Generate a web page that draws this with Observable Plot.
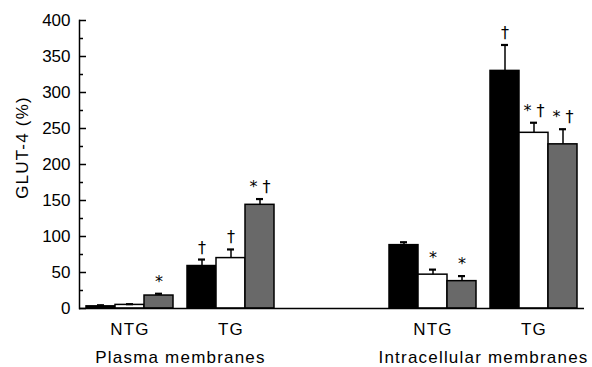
<!DOCTYPE html>
<html><head><meta charset="utf-8">
<script src="https://cdn.jsdelivr.net/npm/d3@7"></script>
<script src="https://cdn.jsdelivr.net/npm/@observablehq/plot@0.6"></script>
<style>
body{margin:0;background:#fff}
svg{font-family:"Liberation Sans",Arial,Helvetica,sans-serif}
[aria-label="fx-axis tick label"] text, .memb text, .ylab text {letter-spacing:1.2px}
</style>
</head><body><div id="chart"></div>
<script>
// facet groups (a blank slot separates the two membrane fractions)
const groups = ["P-NTG", "P-TG", "gap", "I-NTG", "I-TG"];
const groupLabels = ["NTG", "TG", "", "NTG", "TG"];
const membraneLabels = ["Plasma membranes", "Intracellular membranes"];
const membraneGroups = ["P-TG", "I-TG"];
const treatments = ["A", "B", "C"];
const treatmentColors = ["#000000", "#ffffff", "#696969"];
const yTicks = [0, 50, 100, 150, 200, 250, 300, 350, 400];
const yMinorTicks = [25, 75, 125, 175, 225, 275, 325, 375];
const yLabel = "GLUT-4 (%)";

// bars
const barGroup     = ["P-NTG","P-NTG","P-NTG","P-TG","P-TG","P-TG","I-NTG","I-NTG","I-NTG","I-TG","I-TG","I-TG"];
const barTreatment = ["A","B","C","A","B","C","A","B","C","A","B","C"];
const barValue     = [3, 5, 18, 59, 70, 144, 88, 47, 38, 330, 244, 228];
const barErrorTop  = [4.5, 6, 20.5, 68, 82, 152, 92, 54, 45, 366, 258, 249];
const barMark      = ["", "", "*", "†", "†", "* †", "", "*", "*", "†", "* †", "* †"];

const data = barValue.map((v, i) => ({g: barGroup[i], t: barTreatment[i], v, e: barErrorTop[i], m: barMark[i]}));
const membData = membraneLabels.map((label, i) => ({g: membraneGroups[i], label}));

const plot = Plot.plot({
  width: 592, height: 367,
  marginLeft: 78, marginRight: 7, marginTop: 20, marginBottom: 59,
  style: {fontFamily: '"Liberation Sans", Arial, sans-serif', fontSize: "17px", background: "white", color: "black", overflow: "visible"},
  fx: {domain: groups, paddingInner: 0, paddingOuter: 0, axis: null},
  x: {domain: treatments, paddingInner: 0, paddingOuter: 0.22, axis: null},
  y: {domain: [0, 400], axis: null},
  color: {domain: treatments, range: treatmentColors},
  marks: [
    Plot.barY(data, {fx: "g", x: "t", y: "v", fill: "t", stroke: "black", strokeWidth: 1.5}),
    Plot.ruleX(data, {fx: "g", x: "t", y1: "v", y2: "e", stroke: "black", strokeWidth: 1.5}),
    Plot.tickY(data, {fx: "g", x: "t", y: "e", stroke: "black", strokeWidth: 2.2, insetLeft: 11, insetRight: 11}),
    Plot.text(data, {fx: "g", x: "t", y: "e", text: "m", dy: -7, lineAnchor: "bottom", fontSize: 16, fill: "black", fontFamily: '"DejaVu Sans", sans-serif'}),
    Plot.ruleY(groups, {fx: d => d, y: () => 0, stroke: "black", strokeWidth: 1.5}),
    Plot.frame({anchor: "left", facetAnchor: "left", stroke: "black", strokeWidth: 1.5}),
    Plot.axisY({ticks: yTicks, tickSize: -7, tickFormat: () => "", facetAnchor: "left", label: null, strokeWidth: 1.5}),
    Plot.axisY({ticks: yMinorTicks, tickSize: -4, tickFormat: () => "", facetAnchor: "left", label: null, strokeWidth: 1.5}),
    Plot.axisY({ticks: yTicks, tickSize: 0, tickPadding: 9, facetAnchor: "left", label: null, fontSize: 17}),
    Plot.text([yLabel], {frameAnchor: "left", textAnchor: "middle", rotate: -90, dx: -57, dy: -17, facetAnchor: "left", fontSize: 17, className: "ylab"}),
    Plot.axisFx({anchor: "bottom", ticks: groups.filter((g, i) => groupLabels[i] !== ""), tickFormat: k => groupLabels[groups.indexOf(k)], tickSize: 0, tickPadding: 14, label: null, fontSize: 17}),
    Plot.text(membData, {fx: "g", frameAnchor: "bottom-left", textAnchor: "middle", text: "label", lineAnchor: "top", dy: 42, fontSize: 17, className: "memb"})
  ]
});
document.getElementById("chart").appendChild(plot);
</script>
</body></html>
